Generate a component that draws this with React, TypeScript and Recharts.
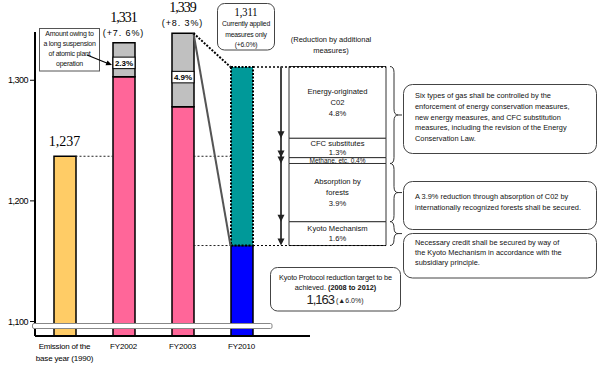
import React from 'react';
import {
  ComposedChart,
  BarChart,
  Bar,
  Line,
  XAxis,
  YAxis,
  ReferenceLine,
  ReferenceDot,
  LabelList,
} from 'recharts';

// ---------------- data ----------------
const categories = ['1990', 'FY2002', 'FY2003', 'FY2010'];
const categoryTickLines = [['Emission of the', 'base year (1990)'], ['FY2002'], ['FY2003'], ['FY2010']];
const baseYearEmission = [1237, 0, 0, 0];
const actualEmission = [0, 1303, 1278, 0];
const nuclearSuspension = [0, 28, 61, 0];
const targetEmission = [0, 0, 0, 1163];
const existingMeasuresGap = [0, 0, 0, 148];
const totalEmission = [1237, 1331, 1339, 1311];
const totalLabels = ['1,237', '1,331', '1,339', ''];
const changeLabels = ['', '(+7. 6%)', '(+8. 3%)', ''];
const nuclearShareLabels = ['', '2.3%', '4.9%', ''];
const yTicks = [1100, 1200, 1300];
const yDomain: [number, number] = [1088, 1340];

const currentMeasuresLabel = ['1,311', 'Currently applied', 'measures only', '(+6.0%)'];

const reductionCategory = 'reduction';
const reductionBase = 1163;
const reductionKeys = ['kyoto', 'forests', 'methane', 'cfc', 'energy'];
const reductionValues = [19.8, 48.2, 4.9, 16.1, 59.4];
const reductionLabels = [
  'Kyoto Mechanism|1.6%',
  'Absorption by|forests|3.9%',
  'Methane, etc. 0.4%',
  'CFC substitutes|1.3%',
  'Energy-originated|C02|4.8%',
];
const braceGroups = [
  [2, 4],
  [1, 1],
  [0, 0],
];

const noteBoxes = [
  [
    'Six types of gas shall be controlled by the',
    'enforcement of energy conservation measures,',
    'new energy measures, and CFC substitution',
    'measures, including the revision of the Energy',
    'Conservation Law.',
  ],
  ['A 3.9% reduction through absorption of C02 by', 'internationally recognized forests shall be secured.'],
  ['Necessary credit shall be secured by way of', 'the Kyoto Mechanism in accordance with the', 'subsidiary principle.'],
];

// ---------------- derived tables ----------------
const mainData = categories.map((name, i) => ({
  name,
  base: baseYearEmission[i],
  actual: actualEmission[i],
  target: targetEmission[i],
  nuclear: nuclearSuspension[i],
  gap: existingMeasuresGap[i],
  total: totalEmission[i],
  numberWithChange: changeLabels[i] ? totalLabels[i] : '',
  numberPlain: changeLabels[i] ? '' : totalLabels[i],
  change: changeLabels[i],
  share: nuclearShareLabels[i],
}));

const reductionRow: Record<string, any> = { name: reductionCategory, base: reductionBase };
reductionKeys.forEach((k, i) => {
  reductionRow[k] = reductionValues[i];
  reductionRow[k + 'Label'] = reductionLabels[i];
});
const reductionData = [reductionRow];

const reductionBottoms: number[] = [];
let acc = reductionBase;
reductionValues.forEach((v) => {
  reductionBottoms.push(acc);
  acc += v;
});
const reductionTops = reductionValues.map((v, i) => reductionBottoms[i] + v);
const reductionTop = acc;

// ---------------- style constants ----------------
const SANS = '"Liberation Sans", Arial, Helvetica, sans-serif';
const SERIF = '"Liberation Serif", "Times New Roman", serif';
const HALF_BAR = 11;
const ARROW_DX = 56.5;
const BRACE_DX = 52.5;

// ---------------- label renderers ----------------
const pointXY = (p: any) => {
  const vb = p.viewBox || {};
  return { x: vb.x ?? p.x, y: vb.y ?? p.y };
};

const NumberWithChange = (p: any) => {
  if (!p.value) return null;
  const { x, y } = pointXY(p);
  return (
    <text x={x} y={y - 21} textAnchor="middle" fontFamily={SERIF} fontSize={14} letterSpacing={-1} fill="#000">
      {p.value}
    </text>
  );
};

const NumberPlain = (p: any) => {
  if (!p.value) return null;
  const { x, y } = pointXY(p);
  return (
    <text x={x} y={y - 10} textAnchor="middle" fontFamily={SERIF} fontSize={14} fill="#000">
      {p.value}
    </text>
  );
};

const ChangeText = (p: any) => {
  if (!p.value) return null;
  const { x, y } = pointXY(p);
  return (
    <text x={x} y={y - 7} textAnchor="middle" fontFamily={SANS} fontSize={9} letterSpacing={0.9} fill="#000">
      {p.value}
    </text>
  );
};

const ShareBox = (p: any) => {
  if (!p.value) return null;
  const vb = p.viewBox || p;
  const cx = vb.x + vb.width / 2;
  const cy = vb.y + vb.height * 0.6;
  return (
    <g>
      <rect x={vb.x} y={cy - 6} width={vb.width} height={11.5} fill="#fff" stroke="#000" strokeWidth={1} />
      <text x={cx} y={cy + 3} textAnchor="middle" fontFamily={SANS} fontWeight="bold" fontSize={8} fill="#000">
        {p.value}
      </text>
    </g>
  );
};

const BlockLabel = (p: any) => {
  if (!p.value) return null;
  const vb = p.viewBox || p;
  const lines = String(p.value).split('|');
  const cx = vb.x + vb.width / 2;
  const cy = vb.y + vb.height / 2;
  const fs = lines.length === 1 ? 6.5 : 7.6;
  const lh = lines.length === 3 ? 11 : 9.5;
  return (
    <text textAnchor="middle" fontFamily={SANS} fontSize={fs} fill="#111">
      {lines.map((l, i) => (
        <tspan key={i} x={cx} y={cy - ((lines.length - 1) * lh) / 2 + i * lh + fs * 0.35}>
          {l}
        </tspan>
      ))}
    </text>
  );
};

const XTick = (props: any) => {
  const { x, y, payload } = props;
  const idx = categories.indexOf(payload.value);
  const lines = idx >= 0 ? categoryTickLines[idx] : [String(payload.value)];
  return (
    <g>
      {lines.map((l, i) => (
        <text key={i} x={x} y={y + 13 + i * 12} textAnchor="middle" fontSize={8} fontFamily={SANS} letterSpacing={-0.2} fill="#000">
          {l}
        </text>
      ))}
    </g>
  );
};

// ---------------- reference shapes ----------------
const dottedBetween = (p: any) => (
  <line x1={p.x1 + HALF_BAR} y1={p.y1} x2={p.x2 - HALF_BAR} y2={p.y2} stroke="#222" strokeWidth={1} strokeDasharray="2 2" />
);
const thickDotted = (p: any) => (
  <line x1={p.x1 + HALF_BAR} y1={p.y1} x2={p.x2 - HALF_BAR} y2={p.y2} stroke="#000" strokeWidth={2} strokeDasharray="2 1.5" />
);
const greySolid = (p: any) => (
  <line x1={p.x1 + HALF_BAR} y1={p.y1} x2={p.x2 - HALF_BAR} y2={p.y2} stroke="#555" strokeWidth={2} />
);
const arrowShaft = (p: any) => (
  <line x1={p.x1 - ARROW_DX} y1={p.y1} x2={p.x2 - ARROW_DX} y2={p.y2 - 4} stroke="#444" strokeWidth={2} />
);
const arrowHead = (p: any) => {
  const x = p.cx - ARROW_DX;
  const y = p.cy;
  return <polygon points={`${x - 3.5},${y - 7} ${x + 3.5},${y - 7} ${x},${y}`} fill="#222" />;
};
const brace = (p: any) => {
  const x0 = p.x1 + BRACE_DX;
  const y1 = p.y1;
  const y2 = p.y2;
  const w = 8;
  const xm = x0 + w / 2;
  const ym = (y1 + y2) / 2;
  const r = Math.min(6, (y2 - y1) / 4);
  const d = `M${x0},${y1} Q${xm},${y1} ${xm},${y1 + r} L${xm},${ym - r} Q${xm},${ym} ${x0 + w},${ym} Q${xm},${ym} ${xm},${ym + r} L${xm},${y2 - r} Q${xm},${y2} ${x0},${y2}`;
  return (
    <g>
      <path d={d} fill="none" stroke="#333" strokeWidth={1} />
      <line x1={x0 + w} y1={ym} x2={x0 + w + 4} y2={ym} stroke="#333" strokeWidth={1} />
    </g>
  );
};

// ---------------- overlay helpers ----------------
const Lines = ({ lines, x, y, lh, fs, anchor = 'start', ls = 0 }: any) => (
  <text fontFamily={SANS} fontSize={fs} fill="#111" textAnchor={anchor} letterSpacing={ls}>
    {lines.map((l: string, i: number) => (
      <tspan key={i} x={x} y={y + i * lh}>
        {l}
      </tspan>
    ))}
  </text>
);

export default function App() {
  const noteRects = [
    { y: 84.5, h: 69, first: 98.2, lh: 10.7 },
    { y: 181.5, h: 48, first: 198.8, lh: 10.7 },
    { y: 233.5, h: 44.5, first: 245.4, lh: 10 },
  ];
  return (
    <div style={{ position: 'absolute', left: 0, top: 0, width: 600, height: 366, background: '#fff', overflow: 'hidden' }}>
      <div style={{ position: 'absolute', left: 0, top: 0 }}>
        <ComposedChart width={310} height={366} data={mainData} margin={{ top: 32, right: 0, bottom: 0, left: 0 }}>
          <XAxis
            dataKey="name"
            height={30}
            padding={{ left: 0, right: 39 }}
            axisLine={{ stroke: '#000', strokeWidth: 2 }}
            tickLine={false}
            tickSize={0}
            tickMargin={0}
            interval={0}
            tick={<XTick />}
          />
          <YAxis
            width={35}
            domain={yDomain}
            allowDataOverflow
            ticks={yTicks}
            interval={0}
            tickFormatter={(v: number) => v.toLocaleString('en-US')}
            axisLine={{ stroke: '#000', strokeWidth: 2 }}
            tickLine={{ stroke: '#000' }}
            tickSize={5}
            tickMargin={2}
            tick={{ fontSize: 9, fill: '#000', fontFamily: SANS, letterSpacing: -0.5 }}
          />
          <ReferenceLine segment={[{ x: categories[0], y: totalEmission[0] }, { x: categories[1], y: totalEmission[0] }]} shape={dottedBetween} />
          <ReferenceLine segment={[{ x: categories[2], y: totalEmission[0] }, { x: categories[3], y: totalEmission[0] }]} shape={dottedBetween} />
          <ReferenceLine segment={[{ x: categories[2], y: targetEmission[3] }, { x: categories[3], y: targetEmission[3] }]} shape={dottedBetween} />
          <ReferenceLine segment={[{ x: categories[2], y: totalEmission[2] }, { x: categories[3], y: targetEmission[3] }]} shape={greySolid} />
          <ReferenceLine segment={[{ x: categories[2], y: totalEmission[2] }, { x: categories[3], y: totalEmission[3] }]} shape={thickDotted} />
          <Bar dataKey="base" stackId="e" fill="#FFCC66" stroke="#000" strokeWidth={1.5} barSize={22} isAnimationActive={false} />
          <Bar dataKey="actual" stackId="e" fill="#FF6699" stroke="#000" strokeWidth={1.5} barSize={22} isAnimationActive={false} />
          <Bar dataKey="target" stackId="e" fill="#0000FF" stroke="#000" strokeWidth={1.5} barSize={22} isAnimationActive={false} />
          <Bar dataKey="nuclear" stackId="e" fill="#C0C0C0" stroke="#000" strokeWidth={1.5} barSize={22} isAnimationActive={false}>
            <LabelList dataKey="share" content={ShareBox} />
          </Bar>
          <Bar
            dataKey="gap"
            stackId="e"
            fill="#009999"
            stroke="#000"
            strokeWidth={2}
            strokeDasharray="2 1.5"
            barSize={22}
            isAnimationActive={false}
          />
          <Line dataKey="total" stroke="none" dot={false} activeDot={false} legendType="none" isAnimationActive={false}>
            <LabelList dataKey="numberWithChange" content={NumberWithChange} />
            <LabelList dataKey="numberPlain" content={NumberPlain} />
            <LabelList dataKey="change" content={ChangeText} />
          </Line>
        </ComposedChart>
      </div>

      <div style={{ position: 'absolute', left: 253, top: 0 }}>
        <BarChart width={157} height={366} data={reductionData} margin={{ top: 32, right: 24, bottom: 30, left: 0 }} barCategoryGap={0}>
          <XAxis dataKey="name" hide padding={{ left: 36, right: 0 }} />
          <YAxis hide domain={yDomain} allowDataOverflow />
          <ReferenceLine y={totalEmission[3]} stroke="#000" strokeWidth={1.5} strokeDasharray="2 2" />
          <ReferenceLine y={reductionBase} stroke="#000" strokeWidth={1} strokeDasharray="2 2" />
          <Bar dataKey="base" stackId="r" fill="transparent" stroke="none" isAnimationActive={false} />
          {reductionKeys.map((k) => (
            <Bar key={k} dataKey={k} stackId="r" fill="#fff" stroke="#333" strokeWidth={1} isAnimationActive={false}>
              <LabelList dataKey={k + 'Label'} content={BlockLabel} />
            </Bar>
          ))}
          <ReferenceLine segment={[{ x: reductionCategory, y: reductionTop }, { x: reductionCategory, y: reductionBase }]} shape={arrowShaft} />
          {reductionBottoms.map((b, i) => (
            <ReferenceDot key={'a' + i} x={reductionCategory} y={b} shape={arrowHead} />
          ))}
          {braceGroups.map((g, i) => (
            <ReferenceLine
              key={'b' + i}
              segment={[{ x: reductionCategory, y: reductionTops[g[1]] }, { x: reductionCategory, y: reductionBottoms[g[0]] }]}
              shape={brace}
            />
          ))}
        </BarChart>
      </div>

      <svg width={600} height={366} style={{ position: 'absolute', left: 0, top: 0, pointerEvents: 'none' }}>
        {/* axis break strip */}
        <rect x={32.5} y={323.5} width={239.5} height={5} rx={1.5} fill="#fff" stroke="#888" strokeWidth={1} />

        {/* atomic plant callout */}
        <rect x={39.5} y={28.5} width={60} height={42.5} fill="#fff" stroke="#555" strokeWidth={1} />
        <Lines lines={['Amount owing to', 'a long suspension', 'of atomic plant', 'operation']} x={69.5} y={35.8} lh={10} fs={7} anchor="middle" ls={-0.25} />
        <line x1={87} y1={55} x2={108} y2={63.5} stroke="#000" strokeWidth={1.2} />
        <polygon points="112,65 105.5,65.2 107.5,60.6" fill="#000" />

        {/* currently applied callout */}
        <rect x={217.5} y={3.5} width={57} height={46.5} rx={7} fill="#fff" stroke="#444" strokeWidth={1} />
        <text x={246} y={15.5} textAnchor="middle" fontFamily={SERIF} fontSize={13} textLength={23} lengthAdjust="spacingAndGlyphs" fill="#000">
          {currentMeasuresLabel[0]}
        </text>
        <Lines lines={currentMeasuresLabel.slice(1)} x={246} y={26.3} lh={10.2} fs={6.8} anchor="middle" ls={-0.2} />

        {/* reduction heading */}
        <Lines lines={['(Reduction by additional', 'measures)']} x={331} y={41.6} lh={11} fs={7.5} anchor="middle" />

        {/* notes */}
        {noteBoxes.map((lines, i) => (
          <g key={i}>
            <rect x={403.5} y={noteRects[i].y} width={193} height={noteRects[i].h} rx={9} fill="#fff" stroke="#444" strokeWidth={1} />
            <Lines lines={lines} x={415} y={noteRects[i].first} lh={noteRects[i].lh} fs={7.4} />
          </g>
        ))}

        {/* Kyoto target box */}
        <rect x={270.5} y={267.5} width={130} height={43.5} rx={7} fill="#fff" stroke="#444" strokeWidth={1} />
        <text x={335.5} y={279.6} textAnchor="middle" fontFamily={SANS} fontSize={7.3} fill="#111" letterSpacing={-0.15}>
          Kyoto Protocol reduction target to be
        </text>
        <text x={335.5} y={290} textAnchor="middle" fontFamily={SANS} fontSize={7.3} fill="#111">
          achieved. <tspan fontWeight="bold">(2008 to 2012)</tspan>
        </text>
        <text x={335} y={304} textAnchor="middle" fontFamily={SANS} fill="#222">
          <tspan fontSize={13} letterSpacing={-1}>{reductionBase.toLocaleString('en-US')}</tspan>
          <tspan fontSize={7} dx={2} dy={-1}>(▲6.0%)</tspan>
        </text>
      </svg>
    </div>
  );
}
